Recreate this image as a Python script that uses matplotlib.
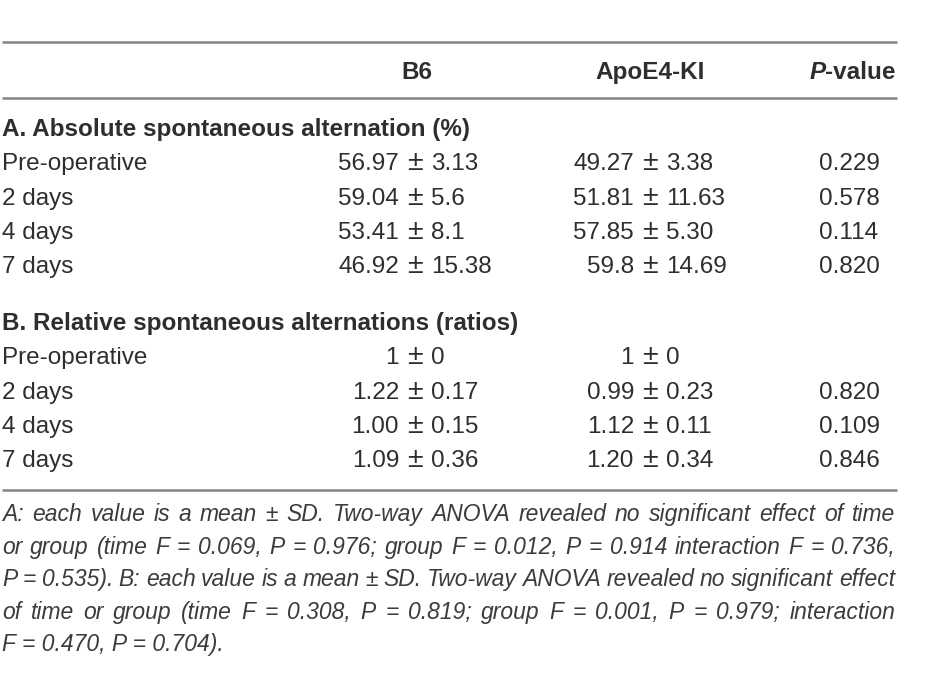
import matplotlib.pyplot as plt

# Datos de la tabla
columns = ["B6", "ApoE4-KI", "-value"]
time_points = ["Pre-operative", "2 days", "4 days", "7 days"]

section_a_title = "A. Absolute spontaneous alternation (%)"
a_b6_mean = ["56.97", "59.04", "53.41", "46.92"]
a_b6_sd = ["3.13", "5.6", "8.1", "15.38"]
a_apoe_mean = ["49.27", "51.81", "57.85", "59.8"]
a_apoe_sd = ["3.38", "11.63", "5.30", "14.69"]
a_pval = ["0.229", "0.578", "0.114", "0.820"]

section_b_title = "B. Relative spontaneous alternations (ratios)"
b_b6_mean = ["1", "1.22", "1.00", "1.09"]
b_b6_sd = ["0", "0.17", "0.15", "0.36"]
b_apoe_mean = ["1", "0.99", "1.12", "1.20"]
b_apoe_sd = ["0", "0.23", "0.11", "0.34"]
b_pval = ["", "0.820", "0.109", "0.846"]

footnote = [
    "A: each value is a mean ± SD. Two-way ANOVA revealed no significant effect of time",
    "or group (time F = 0.069, P = 0.976; group F = 0.012, P = 0.914 interaction F = 0.736,",
    "P = 0.535). B: each value is a mean ± SD. Two-way ANOVA revealed no significant effect",
    "of time or group (time F = 0.308, P = 0.819; group F = 0.001, P = 0.979; interaction",
    "F = 0.470, P = 0.704).",
]

font = ["Liberation Sans", "DejaVu Sans"]
text_color = "#2e2e2e"
note_color = "#3c3c3c"
line_color = "#858585"
fs = 17.5

fig = plt.figure(figsize=(9.5, 7), dpi=100)
ax = fig.add_axes([0, 0, 1, 1])
ax.set_xlim(0, 950)
ax.set_ylim(700, 0)
ax.axis("off")
renderer = fig.canvas.get_renderer()

x_left, x_right = 2, 897
pm_x = [415, 650]   # columnas alineadas en el signo ±
pval_x = 849
gap = 16


def width_of(t):
    bb = t.get_window_extent(renderer=renderer)
    return bb.width


# Líneas horizontales
for y in [42, 98, 490]:
    ax.plot([x_left, x_right], [y, y], color=line_color, linewidth=1.8,
            solid_capstyle="butt")

# Cabecera
y_head = 79
ax.text(417, y_head, columns[0], ha="center", va="baseline", fontsize=fs,
        fontweight="bold", family=font, color=text_color)
ax.text(650, y_head, columns[1], ha="center", va="baseline", fontsize=fs,
        fontweight="bold", family=font, color=text_color)
t_val = ax.text(x_right - 1, y_head, columns[2], ha="right", va="baseline",
                fontsize=fs, fontweight="bold", family=font, color=text_color)
ax.text(x_right - 1 - width_of(t_val), y_head, "P", ha="right", va="baseline",
        fontsize=fs, style="italic", fontweight="bold", family=font,
        color=text_color)


def draw_pm(x, y, mean, sd):
    ax.text(x - gap, y, mean, ha="right", va="baseline", fontsize=fs,
            family=font, color=text_color)
    ax.text(x, y, "±", ha="center", va="baseline", fontsize=fs + 3,
            family=font, color=text_color)
    ax.text(x + gap, y, sd, ha="left", va="baseline", fontsize=fs,
            family=font, color=text_color)


def draw_section(y0, title, b6_mean, b6_sd, apoe_mean, apoe_sd, pval):
    ax.text(x_left, y0, title, ha="left", va="baseline", fontsize=fs,
            fontweight="bold", family=font, color=text_color)
    for i, label in enumerate(time_points):
        y = y0 + 34.3 * (i + 1)
        ax.text(x_left, y, label, ha="left", va="baseline", fontsize=fs,
                family=font, color=text_color)
        draw_pm(pm_x[0], y, b6_mean[i], b6_sd[i])
        draw_pm(pm_x[1], y, apoe_mean[i], apoe_sd[i])
        ax.text(pval_x, y, pval[i], ha="center", va="baseline", fontsize=fs,
                family=font, color=text_color)


draw_section(136, section_a_title, a_b6_mean, a_b6_sd, a_apoe_mean,
             a_apoe_sd, a_pval)
draw_section(330, section_b_title, b_b6_mean, b_b6_sd, b_apoe_mean,
             b_apoe_sd, b_pval)

# Nota al pie (justificada palabra por palabra)
note_right = 895
for i, line in enumerate(footnote):
    y = 521 + 32.6 * i
    if i == len(footnote) - 1:
        ax.text(x_left, y, line, ha="left", va="baseline", fontsize=16.5,
                style="italic", family=font, color=note_color)
        continue
    words = line.split(" ")
    texts = [ax.text(0, y, w, ha="left", va="baseline", fontsize=16.5,
                     style="italic", family=font, color=note_color)
             for w in words]
    widths = [width_of(t) for t in texts]
    space = (note_right - x_left - sum(widths)) / (len(words) - 1)
    x = x_left
    for t, w in zip(texts, widths):
        t.set_x(x)
        x += w + space

fig.savefig("out.png", dpi=100)
